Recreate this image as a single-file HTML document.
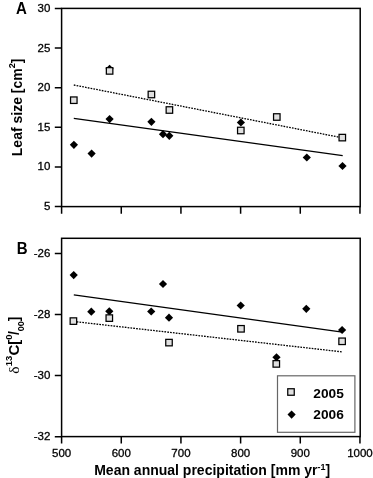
<!DOCTYPE html>
<html><head><meta charset="utf-8"><style>
html,body{margin:0;padding:0;background:#fff;}
svg{display:block;will-change:transform;}
text{font-family:"Liberation Sans",sans-serif;fill:#000;}
.t{font-size:11.5px;stroke:#000;stroke-width:0.3px;}
.lg{font-size:13.7px;font-weight:bold;}
.pl{font-size:16px;font-weight:bold;}
.ax{font-size:14px;font-weight:bold;}
</style></head><body>
<svg width="373" height="478" viewBox="0 0 373 478">
<rect x="61.6" y="8.4" width="298.60" height="198.20" fill="none" stroke="#000" stroke-width="1.5"/>
<rect x="61.6" y="238.3" width="298.60" height="198.30" fill="none" stroke="#000" stroke-width="1.5"/>
<text x="50.3" y="11.90" class="t" text-anchor="end">30</text>
<text x="50.3" y="51.54" class="t" text-anchor="end">25</text>
<text x="50.3" y="91.18" class="t" text-anchor="end">20</text>
<text x="50.3" y="130.82" class="t" text-anchor="end">15</text>
<text x="50.3" y="170.46" class="t" text-anchor="end">10</text>
<text x="50.3" y="210.10" class="t" text-anchor="end">5</text>
<text x="50.3" y="256.90" class="t" text-anchor="end">-26</text>
<text x="50.3" y="318.00" class="t" text-anchor="end">-28</text>
<text x="50.3" y="379.10" class="t" text-anchor="end">-30</text>
<text x="50.3" y="440.20" class="t" text-anchor="end">-32</text>
<text x="61.60" y="456.8" class="t" text-anchor="middle">500</text>
<text x="121.27" y="456.8" class="t" text-anchor="middle">600</text>
<text x="180.94" y="456.8" class="t" text-anchor="middle">700</text>
<text x="240.61" y="456.8" class="t" text-anchor="middle">800</text>
<text x="300.28" y="456.8" class="t" text-anchor="middle">900</text>
<text x="359.95" y="456.8" class="t" text-anchor="middle">1000</text>
<path d="M54.80 8.40H61.6M54.80 48.04H61.6M54.80 87.68H61.6M54.80 127.32H61.6M54.80 166.96H61.6M54.80 206.60H61.6M54.80 253.40H61.6M54.80 314.50H61.6M54.80 375.60H61.6M54.80 436.70H61.6M61.60 206.6V213.80M61.60 436.6V443.60M121.27 206.6V213.80M121.27 436.6V443.60M180.94 206.6V213.80M180.94 436.6V443.60M240.61 206.6V213.80M240.61 436.6V443.60M300.28 206.6V213.80M300.28 436.6V443.60M359.95 206.6V213.80M359.95 436.6V443.60" stroke="#000" stroke-width="1.5" fill="none"/>
<path d="M73.8 118.3L342.7 155.7M73.8 294.9L342.4 332.2" stroke="#000" stroke-width="1.3" fill="none"/>
<path d="M73.8 85.0L342.3 137.8M73.8 321.5L342.4 351.9" stroke="#000" stroke-width="1.3" fill="none" stroke-dasharray="1.7 1.15"/>
<path d="M73.90 140.70L78.00 144.80L73.90 148.90L69.80 144.80Z" fill="#000"/>
<path d="M91.60 149.50L95.70 153.60L91.60 157.70L87.50 153.60Z" fill="#000"/>
<path d="M109.60 115.00L113.70 119.10L109.60 123.20L105.50 119.10Z" fill="#000"/>
<path d="M109.60 64.70L113.70 68.80L109.60 72.90L105.50 68.80Z" fill="#000"/>
<path d="M151.40 117.70L155.50 121.80L151.40 125.90L147.30 121.80Z" fill="#000"/>
<path d="M163.00 130.10L167.10 134.20L163.00 138.30L158.90 134.20Z" fill="#000"/>
<path d="M169.30 131.70L173.40 135.80L169.30 139.90L165.20 135.80Z" fill="#000"/>
<path d="M240.90 118.40L245.00 122.50L240.90 126.60L236.80 122.50Z" fill="#000"/>
<path d="M306.80 153.40L310.90 157.50L306.80 161.60L302.70 157.50Z" fill="#000"/>
<path d="M342.50 161.90L346.60 166.00L342.50 170.10L338.40 166.00Z" fill="#000"/>
<path d="M73.70 271.00L77.80 275.10L73.70 279.20L69.60 275.10Z" fill="#000"/>
<path d="M91.30 307.60L95.40 311.70L91.30 315.80L87.20 311.70Z" fill="#000"/>
<path d="M109.30 307.20L113.40 311.30L109.30 315.40L105.20 311.30Z" fill="#000"/>
<path d="M151.20 307.40L155.30 311.50L151.20 315.60L147.10 311.50Z" fill="#000"/>
<path d="M163.00 279.90L167.10 284.00L163.00 288.10L158.90 284.00Z" fill="#000"/>
<path d="M169.00 313.60L173.10 317.70L169.00 321.80L164.90 317.70Z" fill="#000"/>
<path d="M240.70 301.40L244.80 305.50L240.70 309.60L236.60 305.50Z" fill="#000"/>
<path d="M276.50 353.20L280.60 357.30L276.50 361.40L272.40 357.30Z" fill="#000"/>
<path d="M306.30 304.70L310.40 308.80L306.30 312.90L302.20 308.80Z" fill="#000"/>
<path d="M342.10 325.90L346.20 330.00L342.10 334.10L338.00 330.00Z" fill="#000"/>
<rect x="70.55" y="96.95" width="6.5" height="6.5" fill="#e0e0e0" stroke="#000" stroke-width="1.25"/>
<rect x="106.35" y="67.65" width="6.5" height="6.5" fill="#e0e0e0" stroke="#000" stroke-width="1.25"/>
<rect x="148.15" y="91.25" width="6.5" height="6.5" fill="#e0e0e0" stroke="#000" stroke-width="1.25"/>
<rect x="166.15" y="106.75" width="6.5" height="6.5" fill="#e0e0e0" stroke="#000" stroke-width="1.25"/>
<rect x="237.55" y="127.25" width="6.5" height="6.5" fill="#e0e0e0" stroke="#000" stroke-width="1.25"/>
<rect x="273.55" y="113.75" width="6.5" height="6.5" fill="#e0e0e0" stroke="#000" stroke-width="1.25"/>
<rect x="339.05" y="134.35" width="6.5" height="6.5" fill="#e0e0e0" stroke="#000" stroke-width="1.25"/>
<rect x="70.15" y="317.85" width="6.5" height="6.5" fill="#e0e0e0" stroke="#000" stroke-width="1.25"/>
<rect x="106.05" y="314.85" width="6.5" height="6.5" fill="#e0e0e0" stroke="#000" stroke-width="1.25"/>
<rect x="165.75" y="339.35" width="6.5" height="6.5" fill="#e0e0e0" stroke="#000" stroke-width="1.25"/>
<rect x="237.75" y="325.55" width="6.5" height="6.5" fill="#e0e0e0" stroke="#000" stroke-width="1.25"/>
<rect x="273.05" y="360.65" width="6.5" height="6.5" fill="#e0e0e0" stroke="#000" stroke-width="1.25"/>
<rect x="338.85" y="338.05" width="6.5" height="6.5" fill="#e0e0e0" stroke="#000" stroke-width="1.25"/>
<rect x="277.5" y="375.8" width="77.4" height="56.5" fill="#fff" stroke="#666" stroke-width="1.2"/>
<rect x="287.75" y="388.75" width="6.5" height="6.5" fill="#e0e0e0" stroke="#000" stroke-width="1.25"/>
<path d="M291.60 410.50L295.70 414.60L291.60 418.70L287.50 414.60Z" fill="#000"/>
<text x="313.3" y="397.8" class="lg">2005</text>
<text x="313.3" y="418.8" class="lg">2006</text>
<text transform="translate(16.0 14.2) scale(0.94 1)" class="pl">A</text>
<text transform="translate(16.7 253.9) scale(0.94 1)" class="pl">B</text>
<text x="94.2" y="474.6" class="ax">Mean annual precipitation [mm yr<tspan font-size="9" dy="-5">-1</tspan><tspan dy="5">]</tspan></text>
<text transform="translate(21.5 156.2) rotate(-90)" class="ax">Leaf size [cm<tspan font-size="9.2" dy="-7">2</tspan><tspan dy="7">]</tspan></text>
<text transform="translate(19.3 373.8) rotate(-90)" class="ax"><tspan font-family="Liberation Serif" font-weight="normal" font-size="15.5">δ</tspan><tspan font-size="9.5" dy="-7.7" dx="0.3">13</tspan><tspan dy="7.7" font-size="15">C[</tspan><tspan font-size="9.5" dy="-7.8">0</tspan><tspan dy="7.8" dx="-0.6">/</tspan><tspan font-size="9" dy="4.3">00</tspan><tspan dy="-4.3">]</tspan></text>
</svg>
</body></html>
